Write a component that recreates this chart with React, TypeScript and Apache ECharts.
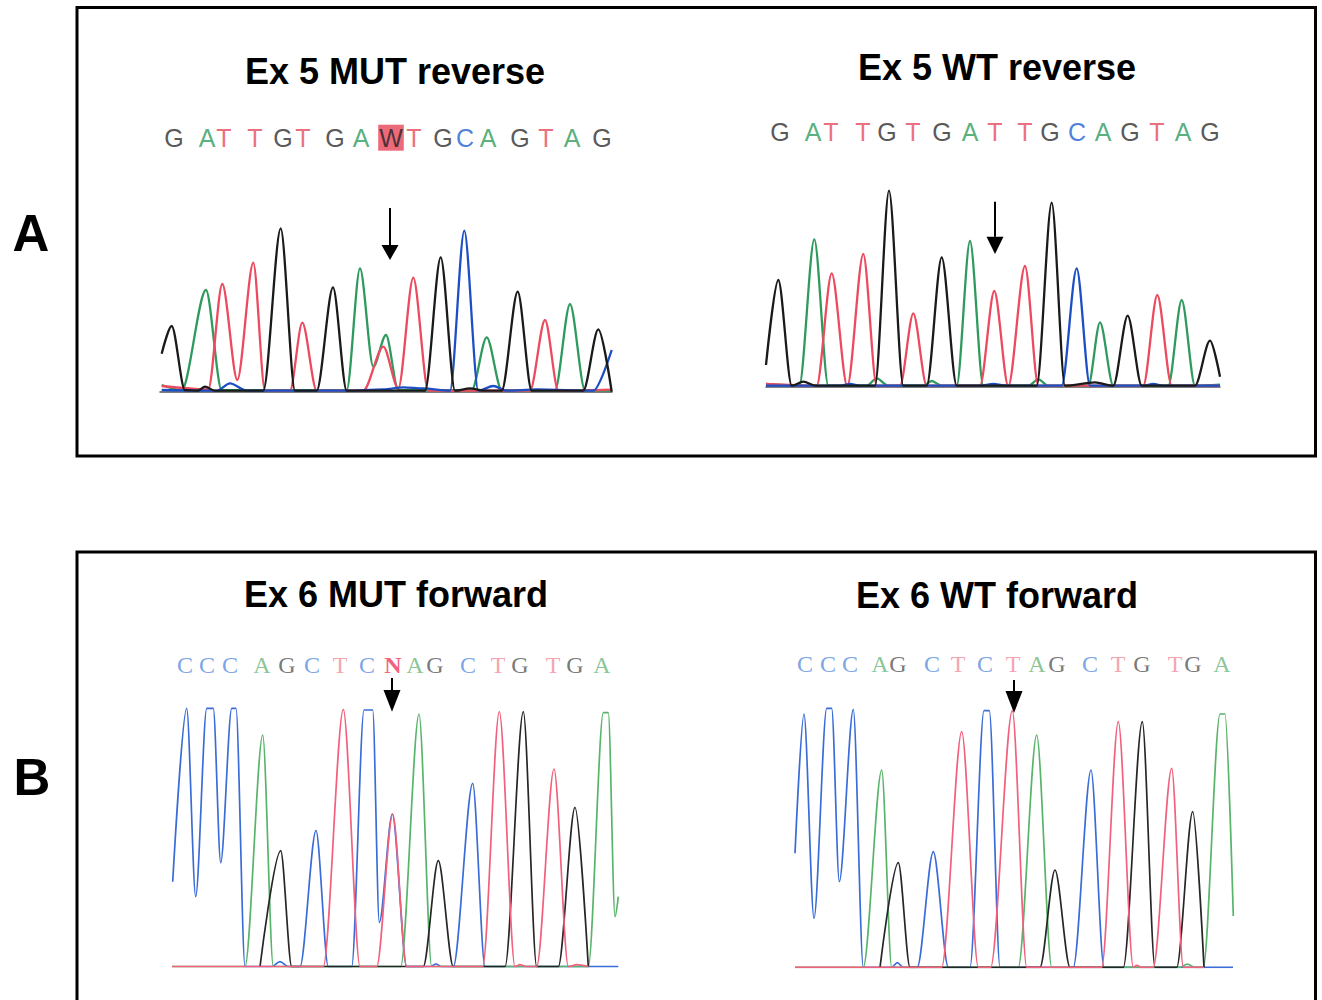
import React, { useEffect, useRef } from "react";
import * as echarts from "echarts";

type P = [number, number];

// ---------- Panel A left: Ex 5 MUT reverse ----------
const aL_black: P[] = [[1.7,38],[11.7,65.7],[25,1.5],[38,1],[45,5],[55,1],[103.3,1],[120.7,163.3],[135,1],[156.7,1],[173,104.3],[186.7,1],[265,1],[280.7,134.3],[295,1],[310,3.3],[325,1],[341.7,1],[357.7,100],[371.7,1],[423.3,1],[438.3,62.3],[451.7,0]];
const aL_green: P[] = [[1.7,6.7],[21.7,1.5],[46,101.7],[61.7,1.5],[186.7,1.5],[200,123.3],[213.3,25],[226,56.7],[238.3,1.5],[311.7,1.5],[326.7,54.3],[341.7,1.5],[395,1.5],[410,87.7],[425,1.5],[451.7,1]];
const aL_red: P[] = [[1.7,5.7],[48.3,2.3],[62.3,107.7],[77.3,11.7],[93.3,129],[105,1],[130,1],[142.3,69],[156.7,1],[203.3,1],[223.3,45],[238.3,3.3],[253.3,114],[268.3,1],[370,1],[385,71.7],[398.3,1],[451.7,2]];
const aL_blue: P[] = [[1.7,1.7],[56.7,1],[70,8.3],[86.7,1],[186.7,1],[223.3,2.3],[243.3,4.3],[263.3,3.3],[290,1],[304.3,161],[318.3,1],[333.3,5.7],[346.7,1],[376.7,2.3],[433.3,1],[451.7,41.7]];
const aL_seq = ["G","A","T","T","G","T","G","A","W","T","G","C","A","G","T","A","G"];
const aL_pos = [14,47,64,95,123,143,175,201,231,254,283,305,328,360,386,412,442];
const aL_arrow = [230, 183.7, 146.7, 131.7];

// ---------- Panel A right: Ex 5 WT reverse ----------
const aR_black: P[] = [[0,21.7],[12.3,106.7],[25.7,1],[37.3,5],[50,1],[109,1],[123,196],[137.3,1],[160.7,1],[175.7,129.3],[190.7,1],[270.7,1],[285.7,184],[299,1],[329,4.3],[347.3,1],[361.7,71],[375.7,1],[429,1],[444,46],[454,10]];
const aR_green: P[] = [[0,2.7],[33.3,1],[48.3,147.3],[62.3,1],[100.7,1],[110.7,8.3],[122.3,1],[157.3,1],[165.7,5.7],[175.7,1],[190.7,1],[204,145.7],[217.3,1],[262.3,1],[272.3,7.3],[282.3,1],[322.3,1],[334,64.3],[347.3,1],[402.3,1],[415.7,86.7],[429,1],[454,2]];
const aR_red: P[] = [[0,2.7],[50.7,1],[65.7,113.3],[81.3,0.5],[97.3,132.7],[110.7,1],[134,1],[147.3,73.3],[160.7,1],[214,1],[228.3,95.7],[242.3,0.5],[259,120.7],[272.3,1],[377.3,1],[391.3,91.7],[405.7,1],[454,1]];
const aR_blue: P[] = [[0,1],[74,1],[84,2.7],[94,1],[214,1],[227.3,2.7],[240.7,1],[295.7,1],[310.7,118.3],[324,1],[377.3,1],[387.3,2.7],[397.3,1],[454,1]];
const aR_seq = ["G","A","T","T","G","T","G","A","T","T","G","C","A","G","T","A","G"];
const aR_pos = [14,47,65,97,121,147,176,204,229,259,284,311,337,364,391,417,444];
const aR_arrow = [229, 185, 150, 132.7];

// ---------- Panel B left: Ex 6 MUT forward ----------
const bL_blue: P[] = [[0.7,85],[14.7,258.3],[23.7,70],[34.7,258.3],[41.3,258.3],[48.7,104],[59.7,258.3],[64,258.3],[73,0],[99.7,0],[108,5],[116.3,0],[128,0],[144,136],[156.3,0],[179.7,0],[192,256.7],[200.7,256.7],[207.3,44.3],[220.3,152.7],[234.7,0],[258,0],[264,2.7],[269.7,0],[281.3,0],[300.7,183.3],[313,0],[446.3,0]];
const bL_green: P[] = [[0,0],[73,0],[90.7,231.7],[101.3,0],[228.7,0],[247,252.7],[259.7,0],[416.3,0],[431.3,254],[436.3,254],[443,50],[446.3,70]];
const bL_black: P[] = [[88,0],[108.7,116],[119.7,0],[251.3,0],[266.3,106],[281.3,0],[333,0],[351.3,255],[364.7,0],[386.3,0],[403,159.3],[416.3,0]];
const bL_red: P[] = [[0,0],[151.3,0],[171.3,257.3],[188,0],[204.7,0],[220.7,152.7],[234.7,0],[310.7,0],[327.3,255],[343,0],[348,2],[354.7,0],[364.7,0],[382,197.7],[396.3,0],[404.7,2],[416.3,0]];
const bL_seq = ["C","C","C","A","G","C","T","C","N","A","G","C","T","G","T","G","A"];
const bL_pos = [13,35,58,90,115,140,168,195,221,243,263,296,326,348,381,403,430];
const bL_arrow = [220, 288.7, 276.7, 255];

// ---------- Panel B right: Ex 6 WT forward ----------
const bR_blue: P[] = [[0,114],[9,253.3],[19,49],[31.7,259],[36.7,259],[44.3,85.7],[58.3,258],[68.3,0],[96.7,0],[102.3,4.7],[108.3,0],[122.3,0],[138.3,115.7],[153.3,0],[175,0],[189,256.7],[194.3,256.7],[205,0],[278.3,0],[296,197.3],[309,0],[438,0]];
const bR_green: P[] = [[0,0],[68.3,0],[86.7,197.3],[96.7,0],[223.3,0],[241.7,232.3],[256.7,0],[385,0],[392.3,3.3],[400,0],[408.3,0],[425,253.3],[430,253.3],[438.3,51.3]];
const bR_black: P[] = [[85,0],[103.3,104.7],[115,0],[245,0],[260,97.3],[275,0],[328.3,0],[347.3,245.7],[360,0],[381.7,0],[397.7,155.7],[409,0]];
const bR_red: P[] = [[0,0],[146.7,0],[166.7,235.7],[183.3,0],[195.7,0],[217.3,256.7],[231.7,0],[306.7,0],[323.3,245.7],[338.3,0],[341.7,2],[346,0],[358.3,0],[376.7,199],[388.3,0],[409,0]];
const bR_seq = ["C","C","C","A","G","C","T","C","T","A","G","C","T","G","T","G","A"];
const bR_pos = [10,33,55,85,103,137,163,190,218,242,262,295,323,347,380,398,427];
const bR_arrow = [219, 287.3, 276.3, 254.3];

const titles = ["Ex 5 MUT reverse", "Ex 5 WT reverse", "Ex 6 MUT forward", "Ex 6 WT forward"];

const colA: Record<string, string> = { G: "#2c2c2c", A: "#2e9a5c", T: "#e6485a", C: "#1f5fd0", W: "#222222" };
const colB: Record<string, string> = { G: "#555555", A: "#6cb67c", T: "#f08c9a", C: "#5a8ee0", N: "#f0365a" };

const traceA = { black: "#1a1a1a", green: "#2f9a5e", red: "#ec4a5e", blue: "#1d4fc4" };
const traceB = { black: "#262626", green: "#58b46a", red: "#f2607c", blue: "#3a6cd8" };

const panels = [
  { left: 160, top: 111.7, width: 452, height: 280, ymax: 280, row: 254, traces: [aL_green, aL_red, aL_blue, aL_black], tc: traceA, lw: 2.3, seq: aL_seq, pos: aL_pos, arrow: aL_arrow, letterCol: colA, font: "Liberation Sans", fs: 25, mark: "W", markBg: "#e8455a", baseline: true },
  { left: 766, top: 106.7, width: 454, height: 280, ymax: 280, row: 255, traces: [aR_green, aR_red, aR_blue, aR_black], tc: traceA, lw: 2.3, seq: aR_seq, pos: aR_pos, arrow: aR_arrow, letterCol: colA, font: "Liberation Sans", fs: 25, mark: "", markBg: "", baseline: true },
  { left: 172, top: 636.7, width: 447, height: 330, ymax: 330, row: 301.7, traces: [bL_blue, bL_green, bL_black, bL_red], tc: traceB, lw: 1.7, seq: bL_seq, pos: bL_pos, arrow: bL_arrow, letterCol: colB, font: "Liberation Serif", fs: 24, mark: "N", markBg: "", baseline: false },
  { left: 795, top: 637.3, width: 438, height: 330, ymax: 330, row: 303.3, traces: [bR_blue, bR_green, bR_black, bR_red], tc: traceB, lw: 1.7, seq: bR_seq, pos: bR_pos, arrow: bR_arrow, letterCol: colB, font: "Liberation Serif", fs: 24, mark: "", markBg: "", baseline: false },
];

const traceNames = [["green", "red", "blue", "black"], ["green", "red", "blue", "black"], ["blue", "green", "black", "red"], ["blue", "green", "black", "red"]];

export default function App() {
  const ref = useRef<HTMLDivElement>(null);
  useEffect(() => {
    document.body.style.margin = "0";
    const chart = echarts.init(ref.current!, undefined, { renderer: "svg" });
    const grid: any[] = [];
    const xAxis: any[] = [];
    const yAxis: any[] = [];
    const series: any[] = [];
    panels.forEach((p, i) => {
      grid.push({ left: p.left, top: p.top, width: p.width, height: p.height });
      xAxis.push({
        type: "value", gridIndex: i, min: 0, max: p.width, show: p.baseline,
        axisLine: { show: p.baseline, onZero: false, lineStyle: { color: "#555", width: 1.5 } },
        axisTick: { show: false }, axisLabel: { show: false }, splitLine: { show: false },
      });
      yAxis.push({ type: "value", gridIndex: i, min: 0, max: p.ymax, show: false, splitLine: { show: false } });
      p.traces.forEach((t, k) => {
        const name = traceNames[i][k] as keyof typeof p.tc;
        series.push({
          type: "line", xAxisIndex: i, yAxisIndex: i, data: t, showSymbol: false,
          smooth: 0.3, smoothMonotone: "x",
          lineStyle: { color: p.tc[name], width: p.lw }, silent: true, z: 2,
        });
      });
      series.push({
        type: "scatter", xAxisIndex: i, yAxisIndex: i, symbolSize: 1, clip: false,
        itemStyle: { color: "rgba(0,0,0,0)" },
        data: p.seq.map((s, j) => {
          const isMark = s === p.mark;
          return {
            value: [p.pos[j], p.row], name: s,
            label: {
              color: p.letterCol[s] || "#333",
              fontWeight: isMark && !p.markBg ? "bold" : "normal",
              backgroundColor: isMark && p.markBg ? p.markBg : "transparent",
              padding: isMark && p.markBg ? [1, 1, 0, 1] : 0,
            },
          };
        }),
        label: { show: true, position: "inside", formatter: "{b}", fontFamily: p.font, fontSize: p.fs },
        z: 3,
      });
      series.push({
        type: "custom", xAxisIndex: i, yAxisIndex: i, clip: false, silent: true, z: 4,
        data: [p.arrow],
        renderItem: (params: any, api: any) => {
          const x = api.value(0);
          const top = api.coord([x, api.value(1)]);
          const base = api.coord([x, api.value(2)]);
          const tip = api.coord([x, api.value(3)]);
          return {
            type: "group",
            children: [
              { type: "line", shape: { x1: top[0], y1: top[1], x2: base[0], y2: base[1] }, style: { stroke: "#000", lineWidth: 2 } },
              { type: "polygon", shape: { points: [[base[0] - 8.5, base[1]], [base[0] + 8.5, base[1]], [tip[0], tip[1]]] }, style: { fill: "#000" } },
            ],
          };
        },
      });
    });

    const titleFont = { fontFamily: "Liberation Sans", fontWeight: "bold", fontSize: 36, fill: "#000" };
    const graphic: any[] = [
      { type: "rect", shape: { x: 77, y: 7.5, width: 1238.5, height: 448.5 }, style: { fill: "none", stroke: "#000", lineWidth: 3 }, z: 0 },
      { type: "rect", shape: { x: 77, y: 552, width: 1238.5, height: 460 }, style: { fill: "none", stroke: "#000", lineWidth: 3 }, z: 0 },
      { type: "text", x: 31, y: 233, style: { text: "A", fontFamily: "Liberation Sans", fontWeight: "bold", fontSize: 51, fill: "#000", align: "center", verticalAlign: "middle" } },
      { type: "text", x: 32, y: 777, style: { text: "B", fontFamily: "Liberation Sans", fontWeight: "bold", fontSize: 51, fill: "#000", align: "center", verticalAlign: "middle" } },
      { type: "text", x: 395, y: 71, style: { ...titleFont, text: titles[0], align: "center", verticalAlign: "middle" } },
      { type: "text", x: 997, y: 67, style: { ...titleFont, text: titles[1], align: "center", verticalAlign: "middle" } },
      { type: "text", x: 396, y: 594, style: { ...titleFont, text: titles[2], align: "center", verticalAlign: "middle" } },
      { type: "text", x: 997, y: 595, style: { ...titleFont, text: titles[3], align: "center", verticalAlign: "middle" } },
    ];

    chart.setOption({ animation: false, backgroundColor: "#fff", grid, xAxis, yAxis, series, graphic });
    return () => chart.dispose();
  }, []);
  return <div ref={ref} style={{ width: 1322, height: 1000 }} />;
}
